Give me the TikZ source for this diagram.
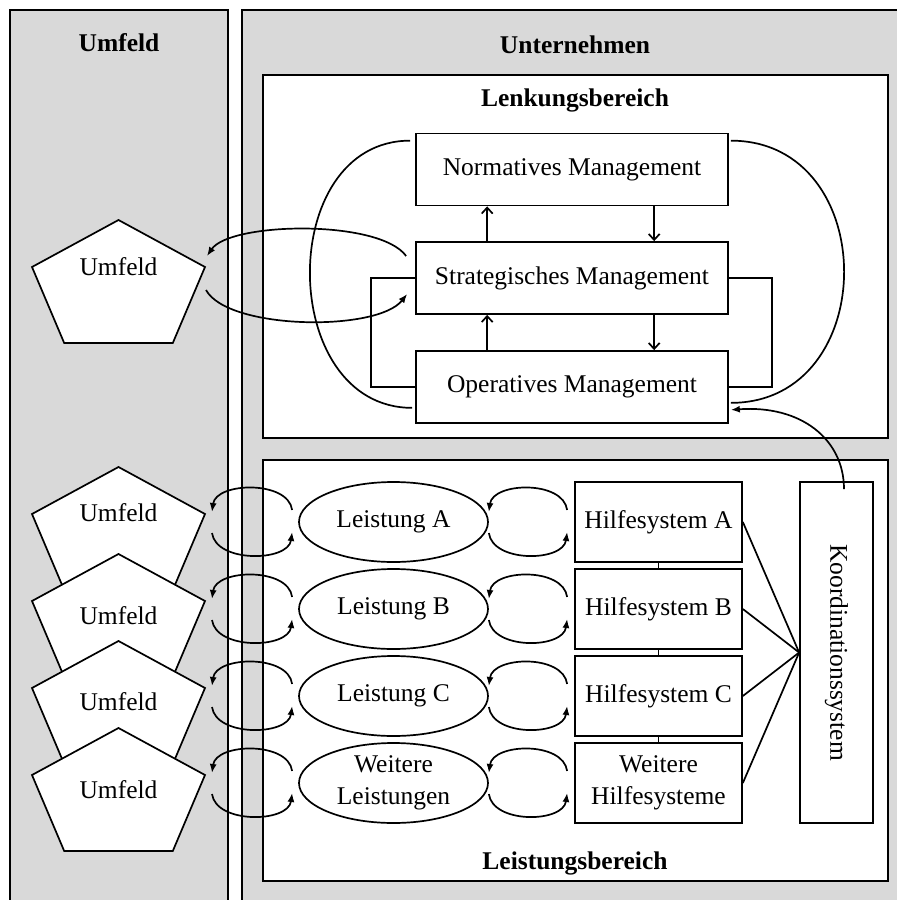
\documentclass[tikz,border=0pt]{standalone}
\usepackage{fontspec}
\setmainfont{Liberation Serif}
\usetikzlibrary{arrows.meta,calc,shapes.geometric}
\definecolor{panelgray}{HTML}{D9D9D9}

\begin{document}
\begin{tikzpicture}[x=1pt,y=-1pt,
  line width=1.7pt,
  font=\fontsize{25.5}{32}\selectfont,
  panel/.style={draw, fill=panelgray},
  area/.style={draw, fill=white},
  title/.style={font=\fontsize{25.5}{32}\selectfont\bfseries},
  mgmt/.style={draw, fill=white, minimum width=312pt, minimum height=72pt, inner sep=0pt},
  leist/.style={draw, fill=white, ellipse, minimum width=189pt, minimum height=80pt, inner sep=0pt, align=center},
  hilfe/.style={draw, fill=white, minimum width=167pt, minimum height=80pt, inner sep=0pt, align=center},
  ctip/.style={-{Latex[length=9pt,width=7pt]}},
  vtip/.style={-{Straight Barb[length=6pt,width=11pt]}},
  umfeldpenta/.pic={
    \draw[fill=white] (0,-55) -- (86.5,-8) -- (54.3,68) -- (-54.3,68) -- (-86.5,-8) -- cycle;
    \coordinate (-r) at (86.5,-8);
  }
]
\useasboundingbox (0,0) rectangle (897,900);
\clip (0,0) rectangle (897,900);

% outer panels
\draw[panel] (10,10) rectangle (228,930);
\draw[panel] (242,10) rectangle (930,930);
\node[title] (tUmfeld) at (119,43) {Umfeld};
\node[title] (tUnt) at (575,45) {Unternehmen};

% inner areas
\draw[area] (263,75) rectangle (888,438);
\draw[area] (263,460) rectangle (888,881);
\node[title] (tLenk) at (575,100) {Lenkungsbereich};
\node[title] (tLeist) at (575,863) {Leistungsbereich};

% management levels
\node[mgmt] (N) at (572,169.5) {Normatives Management};
\node[mgmt] (S) at (572,278) {Strategisches Management};
\node[mgmt] (O) at (572,387) {Operatives Management};

\draw[vtip] ($(S.north west)+(72,0)$) -- ($(N.south west)+(72,0)$);
\draw[vtip] ($(N.south west)+(239,0)$) -- ($(S.north west)+(239,0)$);
\draw[vtip] ($(O.north west)+(72,0)$) -- ($(S.south west)+(72,0)$);
\draw[vtip] ($(S.south west)+(239,0)$) -- ($(O.north west)+(239,0)$);

\draw (S.west) -- ++(-44,0) |- (O.west);
\draw (S.east) -- ++(43,0) |- (O.east);

\draw ($(N.north west)+(-5,8)$) .. controls +(-135,0) and +(-135,0) .. ($(O.south west)+(-3,-16)$);
\draw ($(N.north east)+(2,8)$) .. controls +(151,0) and +(151,0) .. ($(O.south east)+(2,-21)$);

% environment of the management
\pic (U0) at (118.5,275) {umfeldpenta};
\node (U0t) at (118.5,267) {Umfeld};
\draw[ctip] ($(S.west)+(-9,-22)$) .. controls +(-27,-37) and +(23,-34) .. ($(U0-r)+(2,-11)$);
\draw[ctip] ($(U0-r)+(1,23)$) .. controls +(22,40) and +(-30,38) .. ($(S.west)+(-8,16)$);

% performance rows
\foreach \r/\c/\ty/\lname/\hname in {
  A/522/513/{Leistung A}/{Hilfesystem A},
  B/609/616/{Leistung B}/{Hilfesystem B},
  C/696/702/{Leistung C}/{Hilfesystem C},
  D/783/790/{Weitere\\Leistungen}/{Weitere\\Hilfesysteme}}{
  \pic (U\r) at (118.5,\c) {umfeldpenta};
  \node (U\r t) at (118.5,\ty) {Umfeld};
  \node[leist] (L\r) at (393.5,\c) {\lname};
  \node[hilfe] (H\r) at (658.5,\c) {\hname};
  \draw[ctip] ($(L\r.west)+(-6,-12)$) .. controls +(-4,-30) and +(4,-30) .. ($(U\r-r)+(7,-2)$);
  \draw[ctip] ($(U\r-r)+(7,19)$) .. controls +(4,30) and +(-4,30) .. ($(L\r.west)+(-6,10)$);
  \draw[ctip] ($(H\r.west)+(-7,-12)$) .. controls +(-4,-30) and +(4,-30) .. ($(L\r.east)+(0,-10)$);
  \draw[ctip] ($(L\r.east)+(0,11)$) .. controls +(4,30) and +(-4,30) .. ($(H\r.west)+(-7,10)$);
}

\draw (HA.south) -- (HB.north);
\draw (HB.south) -- (HC.north);
\draw (HC.south) -- (HD.north);

% coordination
\node[draw, fill=white, minimum width=73pt, minimum height=341pt, inner sep=0pt] (K) at (836.5,652.5) {};
\node[rotate=-90] (Kt) at (K.center) {Koordinationssystem};
\foreach \r in {A,B,C,D}{
  \draw (H\r.east) -- (K.west);
}
\draw[ctip] ($(K.north)+(7.5,8)$) .. controls +(0,-50) and +(70,-5) .. ($(O.south east)+(2,-14)$);

\end{tikzpicture}
\end{document}
